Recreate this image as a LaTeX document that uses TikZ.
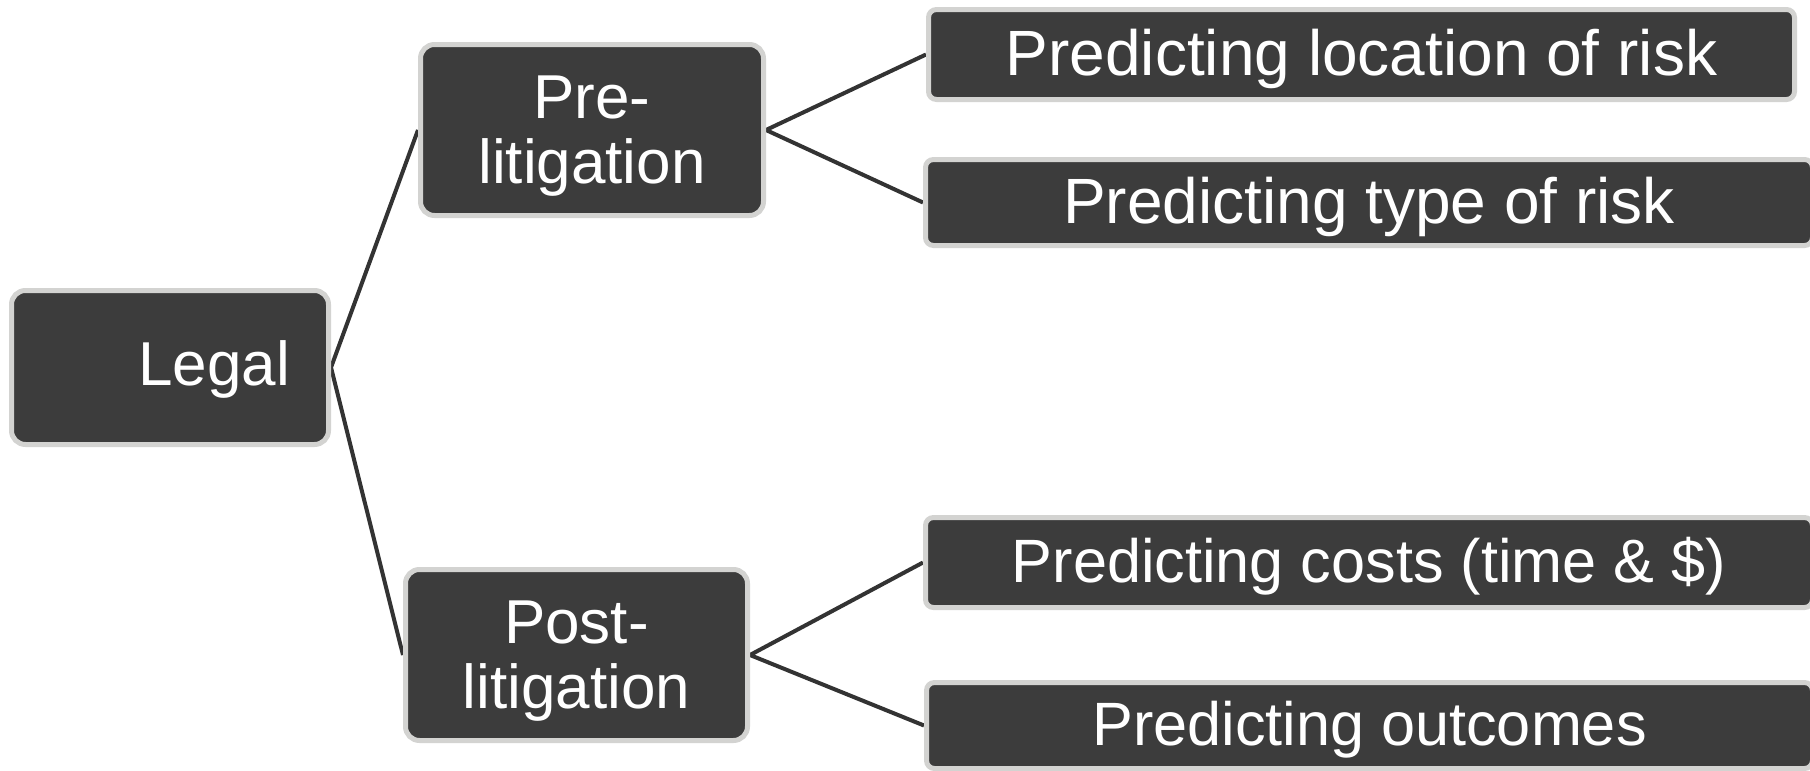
\documentclass[tikz,border=0pt]{standalone}
\usepackage{fontspec}
\setmainfont{Liberation Sans}
\usetikzlibrary{backgrounds}

\definecolor{boxfill}{HTML}{3C3C3C}
\definecolor{boxrim}{HTML}{D3D3D1}
\definecolor{linkcol}{HTML}{333333}

\tikzset{
  box/.style={draw=boxrim, line width=2.5pt, fill=boxfill, text=white,
    inner sep=0pt, align=center},
  topbox/.style={box, rounded corners=7pt, minimum height=85.5pt,
    font=\fontsize{31}{32.5}\selectfont, text depth=0.5pt},
  leafbox/.style={box, rounded corners=4pt,
    font=\fontsize{32}{34}\selectfont, text depth=2.5pt},
  lowleaf/.style={leafbox, font=\fontsize{30.6}{32}\selectfont, text depth=2.4pt},
  link/.style={draw=linkcol, line width=2pt}
}

\begin{document}
\begin{tikzpicture}[x=0.5pt, y=-0.5pt]
  \useasboundingbox (0,0) rectangle (1810,771);

  % root
  \node[topbox, minimum height=77pt, text width=120pt, inner xsep=19.25pt,
        align=right, text depth=4pt] (legal) at (170,367.5) {Legal};

  % second level
  \node[topbox, minimum width=171.5pt] (pre)  at (592,130)   {Pre-\\litigation};
  \node[topbox, minimum width=171pt]   (post) at (576.5,655) {Post-\\litigation};

  % leaves
  \node[leafbox, minimum width=433pt, minimum height=45pt]   (loc)  at (1361.5,54.5)  {Predicting location of risk};
  \node[leafbox, minimum width=443.5pt, minimum height=43pt] (type) at (1369,202.5)   {Predicting type of risk};
  \node[lowleaf, minimum width=443.5pt, minimum height=45pt] (cost) at (1369,562.5)   {Predicting costs (time \& \$)};
  \node[lowleaf, minimum width=443pt, minimum height=43pt]   (outc) at (1369.5,725.5) {Predicting outcomes};

  % white page, then the connectors, all behind the boxes
  \begin{pgfonlayer}{background}
    \fill[white] (0,0) rectangle (1810,771);
    \draw[link] (pre.west) -- (legal.east) -- (post.west);
    \draw[link] (loc.west) -- (pre.east) -- (type.west);
    \draw[link] (cost.west) -- (post.east) -- (outc.west);
  \end{pgfonlayer}
\end{tikzpicture}
\end{document}
